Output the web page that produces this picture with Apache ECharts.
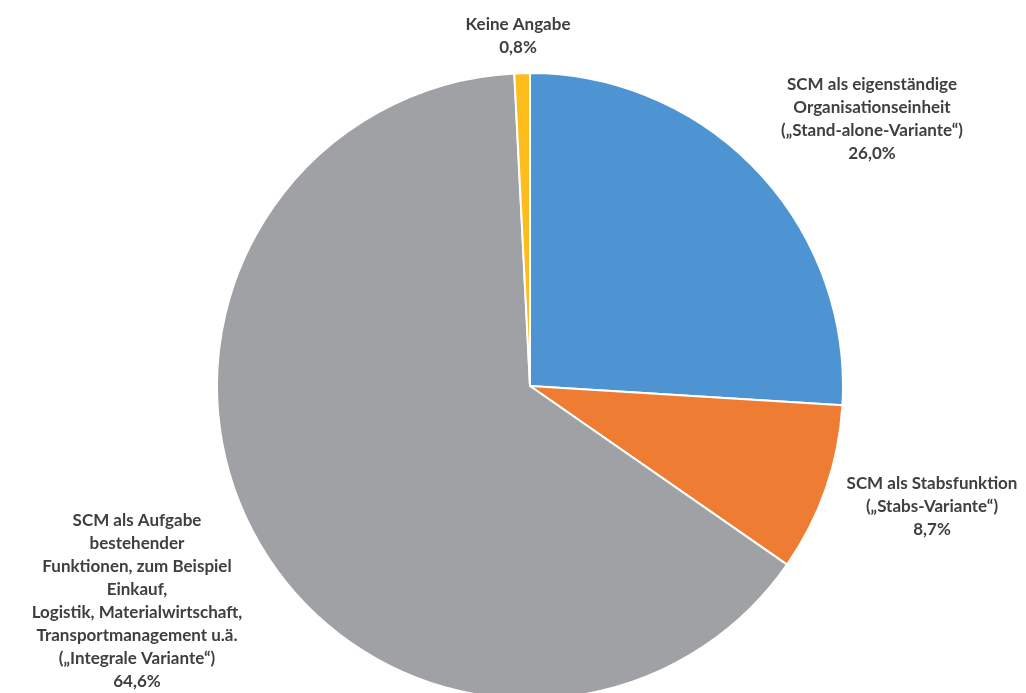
<!DOCTYPE html>
<html><head><meta charset="utf-8">
<script src="https://cdn.jsdelivr.net/npm/echarts@6/dist/echarts.min.js"></script>
<style>html,body{margin:0;padding:0;background:#fff}#c{width:1026px;height:693px}</style>
</head><body><div id="c"></div>
<script>
const categories = [
  'SCM als eigenständige\nOrganisationseinheit\n(„Stand-alone-Variante“)',
  'SCM als Stabsfunktion\n(„Stabs-Variante“)',
  'SCM als Aufgabe\nbestehender\nFunktionen, zum Beispiel\nEinkauf,\nLogistik, Materialwirtschaft,\nTransportmanagement u.ä.\n(„Integrale Variante“)',
  'Keine Angabe'
];
const values = [26.0, 8.7, 64.6, 0.8];
const colors = ['#4E94D3', '#EE7D33', '#A0A1A4', '#FDBD1A'];
const labelCenters = [[872, 119], [932, 507], [137, 601], [518, 36]];

const chart = echarts.init(document.getElementById('c'));
chart.setOption({
  animation: false,
  series: [{
    type: 'pie',
    center: [530, 386],
    radius: 313,
    startAngle: 90,
    clockwise: true,
    avoidLabelOverlap: false,
    data: categories.map((n, i) => ({name: n, value: values[i], itemStyle: {color: colors[i]}})),
    itemStyle: {borderColor: '#fff', borderWidth: 2},
    label: {
      show: true,
      position: 'outside',
      formatter: p => p.name + '\n' + p.value.toFixed(1).replace('.', ',') + '%',
      fontFamily: 'Lato',
      fontWeight: 'bold',
      fontSize: 17,
      lineHeight: 23,
      color: '#3F3F3F',
      align: 'center'
    },
    labelLine: {show: false},
    labelLayout: p => ({
      x: labelCenters[p.dataIndex][0],
      y: labelCenters[p.dataIndex][1],
      align: 'center',
      verticalAlign: 'middle',
      hideOverlap: false
    })
  }]
});
</script></body></html>
